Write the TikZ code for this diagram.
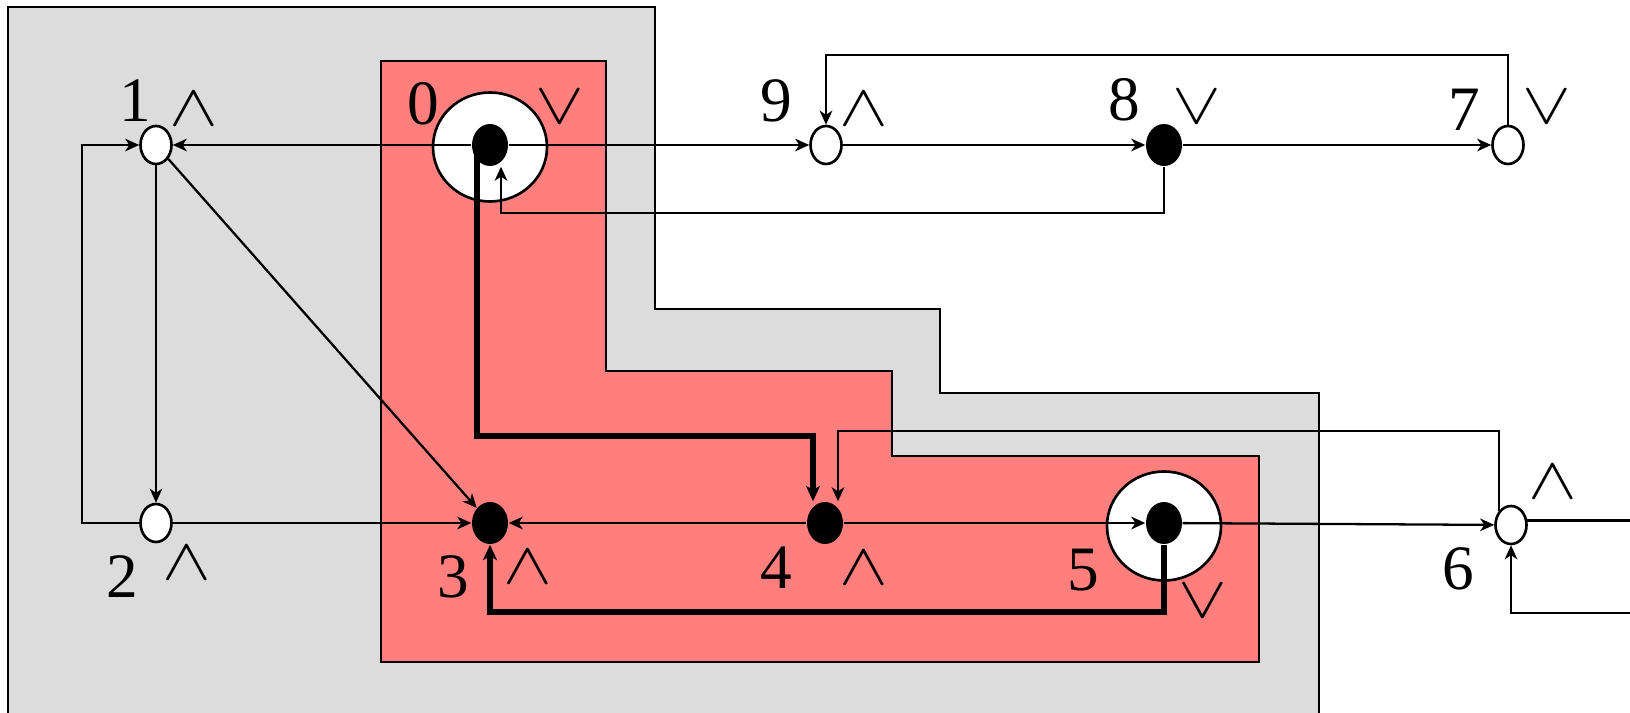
\documentclass[tikz,border=0pt]{standalone}
\usepackage{fix-cm}
\usepackage{fontspec}
\setmainfont{Liberation Serif}
\usetikzlibrary{arrows.meta,shapes.geometric}
\definecolor{zonegray}{RGB}{220,220,220}
\definecolor{zonered}{RGB}{255,127,127}
\newcommand{\opand}{\scalebox{1.3}[1.05]{$\wedge$}}
\newcommand{\opor}{\scalebox{1.3}[1.05]{$\vee$}}

\begin{document}
\begin{tikzpicture}[x=0.1mm,y=-0.1mm,wdot/.style={ellipse,draw,line width=0.75pt,fill=white,inner sep=0pt,
minimum width=3.1mm,minimum height=3.8mm},bdot/.style={ellipse,fill=black,inner sep=0pt,minimum width=3.6mm,
minimum height=4.2mm},ring/.style={ellipse,draw,line width=0.75pt,fill=white,inner sep=0pt,minimum width=11.4mm,
minimum height=10.9mm},num/.style={inner sep=0pt,font=\fontsize{18}{20}\selectfont},
op/.style={inner sep=0pt,font=\fontsize{16}{18}\selectfont},
arr/.style={-{Stealth[length=4pt,width=3.6pt,inset=1.2pt]},line width=0.65pt},
thk/.style={-{Stealth[length=4.4pt,width=4pt,inset=1.2pt]},line width=1.45pt}]
\path[use as bounding box,fill=white] (0,0) rectangle (1630,713);
\clip (0,0) rectangle (1630,713);
\draw[fill=zonegray,line width=0.7pt] (8,7) -- (655,7) -- (655,309) -- (940,309) -- (940,393) -- (1319,393)
 -- (1319,730) -- (8,730) -- cycle;
\draw[fill=zonered,line width=0.7pt] (381,61) -- (606,61) -- (606,371) -- (892,371) -- (892,456) -- (1259,456)
 -- (1259,662) -- (381,662) -- cycle;
\node[ring] (r0) at (490,147) {};
\node[ring] (r5) at (1164,526) {};
\node[bdot] (n0) at (490,145) {};
\node[wdot] (n1) at (156,145) {};
\node[wdot] (n2) at (156,523) {};
\node[bdot] (n3) at (490,523) {};
\node[bdot] (n4) at (825,523) {};
\node[bdot] (n5) at (1164,523) {};
\node[wdot] (n6) at (1511,525) {};
\node[wdot] (n7) at (1508,145) {};
\node[bdot] (n8) at (1164,145) {};
\node[wdot] (n9) at (826,145) {};
\node[num] (l0) at (423,104) {0};\node[op] (o0) at (560,107) {\opor};
\node[num] (l1) at (135,101) {1};\node[op] (o1) at (194,109) {\opand};
\node[num] (l2) at (122,577) {2};\node[op] (o2) at (187,563) {\opand};
\node[num] (l3) at (453,577) {3};\node[op] (o3) at (528,567) {\opand};
\node[num] (l4) at (776,568) {4};\node[op] (o4) at (864,568) {\opand};
\node[num] (l5) at (1083,570) {5};\node[op] (o5) at (1203,601) {\opor};
\node[num] (l6) at (1458,569) {6};\node[op] (o6) at (1553,482) {\opand};
\node[num] (l7) at (1464,110) {7};\node[op] (o7) at (1547,107) {\opor};
\node[num] (l8) at (1124,100) {8};\node[op] (o8) at (1197,107) {\opor};
\node[num] (l9) at (776,101) {9};\node[op] (o9) at (864,109) {\opand};
\coordinate (k21) at (82,145);\coordinate (k04) at (477,436);\coordinate (m04) at (813,436);
\coordinate (k53) at (490,612);\coordinate (k64) at (838,431);\coordinate (k80) at (501,213);
\coordinate (k79) at (826,55);\coordinate (e6) at (1640,519);\coordinate (f6) at (1640,613);
\draw[arr] (n0)--(n1);\draw[arr] (n0)--(n9);\draw[arr] (n9)--(n8);\draw[arr] (n8)--(n7);
\draw[arr] (n2) -| (k21) -- (n1);\draw[arr] (n1)--(n2);\draw[arr] (n1)--(n3);
\draw[arr] (n2)--(n3);\draw[arr] (n4)--(n3);\draw[arr] (n4)--(n5);\draw[arr] (n5)--(n6);
\draw[arr] (n7) |- (k79) -- (n9);
\draw[arr] (n8) |- (k80) -- (k80 |- n0.south);
\draw[arr] (n6.130) |- (k64) -- (k64 |- n4.north);
\draw[thk] (k04 |- n0.center) -- (k04) -- (m04) -- (m04 |- n4.north);
\draw[thk] (n5) |- (k53) -- (n3);
\draw[line width=0.65pt] (n6.15) -- (n6.15 -| e6);
\draw[arr] (f6) -| (n6);
\end{tikzpicture}
\end{document}
